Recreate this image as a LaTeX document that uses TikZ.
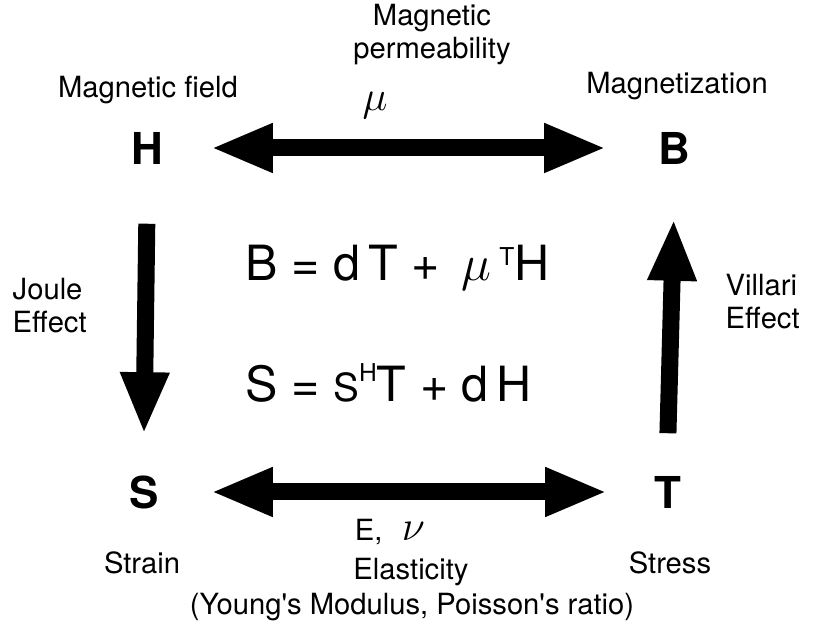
\documentclass[tikz,border=0pt]{standalone}
\usepackage{fontspec}
\setmainfont{TeX Gyre Heros}
\usetikzlibrary{arrows.meta}
\begin{document}
\begin{tikzpicture}[x=0.01cm,y=-0.01cm,
  lbl/.style={inner sep=0pt,font=\fontsize{8.3}{9.4}\selectfont},
  sym/.style={inner sep=0pt,minimum width=1.2cm,minimum height=1.2cm,font=\fontsize{12.5}{14}\selectfont\bfseries},
  eqn/.style={inner sep=0pt,anchor=west,font=\fontsize{13.8}{16}\selectfont},
  fat/.style={line width=0.17cm},
  tip/.tip={Triangle[length=0.62cm,width=0.45cm]}]
\useasboundingbox (0,0) rectangle (814,628);
% corner symbols
\node[sym] (H) at (147,148) {H};
\node[sym] (B) at (674,148) {B};
\node[sym] (S) at (144,492) {S};
\node[sym] (T) at (668,492) {T};
% arrows
\draw[fat,tip-tip,shorten <=0.03cm,shorten >=0.07cm] (H) -- (B);
\draw[fat,tip-tip,shorten <=0.06cm] (S) -- (T);
\draw[fat,-tip,shorten <=0.15cm,shorten >=-0.03cm] (H.south) -- (S.north);
\draw[fat,-tip,shorten <=-0.02cm,shorten >=0.10cm] (T.north) -- (B.south);
% labels
\node[lbl] (mf) at (148,90) {Magnetic field};
\node[lbl] (mz) at (677,86) {Magnetization};
\node[lbl,align=center] (mp) at (432,35) {Magnetic\\permeability};
\node[inner sep=0pt,font=\fontsize{12}{14}\selectfont] (mu) at (375,106) {$\mu$};
\node[lbl,align=left,anchor=west] (je) at (12,306) {Joule\\Effect};
\node[lbl,align=left,anchor=west] (ve) at (725,302) {Villari\\Effect};
\node[lbl] (st) at (142,563) {Strain};
\node[lbl] (ss) at (670,563) {Stress};
\node[lbl] (enu) at (390,532) {E,\enspace\,{\fontsize{12}{14}\selectfont$\nu$}};
\node[lbl] (el) at (411,572) {Elasticity};
\node[lbl] (yg) at (412,607) {(Young\textquotesingle s Modulus, Poisson\textquotesingle s ratio)};
% equations
\node[eqn] (eq1) at (245,268) {B = d\,T + \,$\mu$\,\raisebox{0.6ex}{\fontsize{7}{8}\selectfont T}H};
\node[eqn] (eq2) at (245,383) {S = {\fontsize{11}{13}\selectfont S}\raisebox{0.75ex}{\fontsize{7}{8}\selectfont H}T + d\,H};
\end{tikzpicture}
\end{document}
